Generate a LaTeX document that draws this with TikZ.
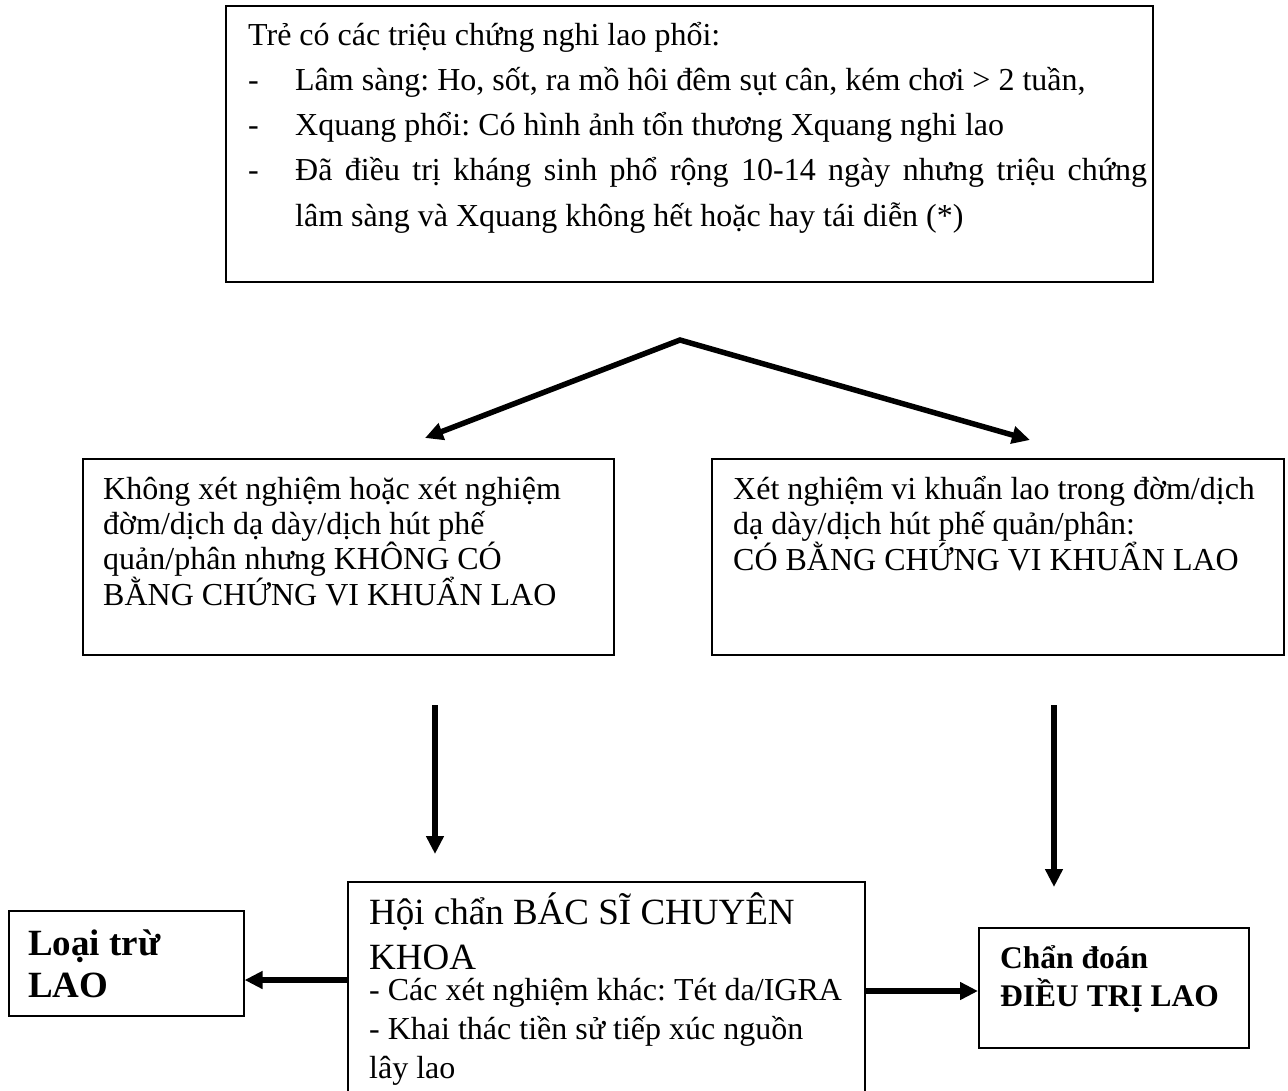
\documentclass[tikz,border=0pt]{standalone}
\usepackage{fontspec}
\setmainfont{Liberation Serif}
\usetikzlibrary{arrows.meta, positioning, calc}
\frenchspacing

\begin{document}
\begin{tikzpicture}[x=1pt, y=-1pt, >={Triangle[length=18pt,width=17pt]},
  box/.style={draw, line width=1.6pt, inner sep=0pt, anchor=north west},
  txt/.style={inner sep=0pt, anchor=base west},
  arr/.style={line width=5.5pt}]
\useasboundingbox (0,0) rectangle (1288,1090);
\clip (0,0) rectangle (1288,1090);
\node[box, minimum width=927pt, minimum height=276pt] (A) at (225,5) {};
\node[box, minimum width=531pt, minimum height=196pt] (B) at (82,458) {};
\node[box, minimum width=572pt, minimum height=196pt] (C) at (711,458) {};
\node[box, minimum width=517pt, minimum height=230pt] (D) at (347,881) {};
\node[box, minimum width=235pt, minimum height=105pt] (E) at (8,910) {};
\node[box, minimum width=270pt, minimum height=120pt] (F) at (978,927) {};

\node[txt] (A_t) at (248,45) {\parbox[t]{899pt}{\fontsize{32}{45.3}\selectfont\frenchspacing
Trẻ có các triệu chứng nghi lao phổi:\par
\hangindent=47pt\makebox[47pt][l]{-}Lâm sàng: Ho, sốt, ra mồ hôi đêm sụt cân, kém chơi > 2 tuần,\par
\hangindent=47pt\makebox[47pt][l]{-}Xquang phổi: Có hình ảnh tổn thương Xquang nghi lao\par
\hangindent=47pt\makebox[47pt][l]{-}Đã điều trị kháng sinh phổ rộng 10-14 ngày nhưng triệu chứng\linebreak
lâm sàng và Xquang không hết hoặc hay tái diễn (*)}};
\node[txt] (B_t) at (103,499) {\parbox[t]{700pt}{\fontsize{32}{35.3}\selectfont
Không xét nghiệm hoặc xét nghiệm\\
đờm/dịch dạ dày/dịch hút phế\\
quản/phân nhưng KHÔNG CÓ\\
BẰNG CHỨNG VI KHUẨN LAO}};
\node[txt] (C_t) at (733,499) {\parbox[t]{700pt}{\fontsize{32}{35.3}\selectfont\frenchspacing
Xét nghiệm vi khuẩn lao trong đờm/dịch\\
dạ dày/dịch hút phế quản/phân:\\
CÓ BẰNG CHỨNG VI KHUẨN LAO}};
\node[txt] (D_t) at (369,924) {\parbox[t]{700pt}{\fontsize{37}{45}\selectfont\frenchspacing
Hội chẩn BÁC SĨ CHUYÊN\\
KHOA\par
\fontsize{32}{39}\selectfont\vspace{-8pt}
- Các xét nghiệm khác: Tét da/IGRA\\
- Khai thác tiền sử tiếp xúc nguồn\\
lây lao}};
\node[txt] (E_t) at (28,955) {\parbox[t]{300pt}{\bfseries\fontsize{37}{42}\selectfont
Loại trừ\\
LAO}};
\node[txt] (F_t) at (1000,968) {\parbox[t]{300pt}{\bfseries\fontsize{31.5}{38}\selectfont
Chẩn đoán\\
ĐIỀU TRỊ LAO}};

\coordinate (O) at (680,340);
\coordinate (L_1) at (425,438);
\coordinate (R_1) at (1030,440);
\coordinate (L_2) at (435,705);
\coordinate (L_3) at (435,854);
\coordinate (R_2) at (1054,705);
\coordinate (R_3) at (1054,887);
\draw[arr, <->, line join=miter] (L_1) -- (O) -- (R_1);
\draw[arr, ->] (L_2) -- (L_3);
\draw[arr, ->] (R_2) -- (R_3);
\draw[arr, ->] (D.west |- 0,980) -- (E.east |- 0,980);
\draw[arr, ->] (D.east |- 0,991) -- (F.west |- 0,991);
\end{tikzpicture}
\end{document}
